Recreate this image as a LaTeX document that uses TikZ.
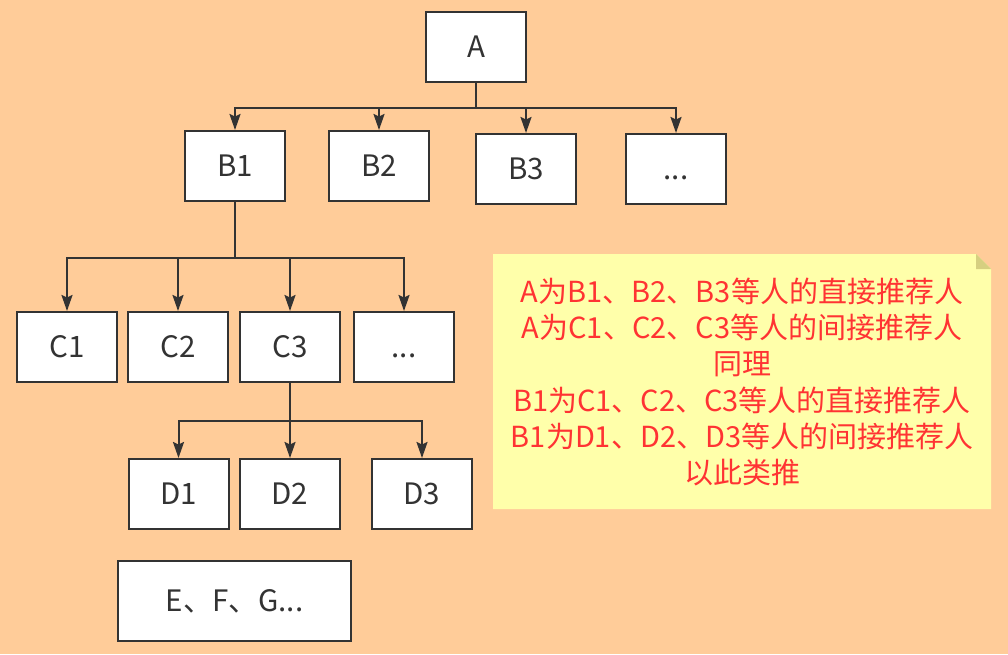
\documentclass[tikz,border=0pt]{standalone}
\usepackage{fontspec}
\setmainfont{Noto Sans CJK SC}
\usetikzlibrary{arrows.meta}
\definecolor{bgc}{HTML}{FFCC99}
\definecolor{ink}{HTML}{333333}
\definecolor{notefill}{HTML}{FFFFAA}
\definecolor{notefold}{HTML}{D6CF80}
\definecolor{notetext}{HTML}{FF3333}
\tikzset{
  box/.style={draw=ink, fill=white, line width=2pt, minimum width=100pt, minimum height=70pt,
    inner sep=0pt, text=ink, text height=21.5pt, text depth=0pt, font=\fontsize{29.5}{34}\selectfont},
  conn/.style={draw=ink, line width=2pt},
  arr/.style={conn, -{Stealth[length=16pt,width=11pt,inset=2.5pt]}},
}
\begin{document}
\begin{tikzpicture}[x=1pt,y=-1pt]
\fill[bgc] (0,0) rectangle (1008,654);
\useasboundingbox (0,0) rectangle (1008,654);

% nodes
\node[box] (A) at (476,47) {A};
\node[box] (B1) at (235,166) {B1};
\node[box] (B2) at (379,166) {B2};
\node[box] (B3) at (526,169) {B3};
\node[box] (B4) at (676,169) {...};
\node[box] (C1) at (67,347) {C1};
\node[box] (C2) at (178,347) {C2};
\node[box] (C3) at (290,347) {C3};
\node[box] (C4) at (404,347) {...};
\node[box] (D1) at (178.5,494) {D1};
\node[box] (D2) at (290,494) {D2};
\node[box] (D3) at (422,494) {D3};
\node[box, minimum width=233pt, minimum height=80pt] (EFG) at (234.5,600.5) {E、F、G...};

% junctions
\coordinate (jA) at (476,107.5);
\coordinate (jB) at (235,258);
\coordinate (jC) at (290,421);

% connectors A -> B
\draw[arr] (A.south) -- (jA) -| (B1.north);
\draw[arr] (A.south) -- (jA) -| (B2.north);
\draw[arr] (A.south) -- (jA) -| (B3.north);
\draw[arr] (A.south) -- (jA) -| (B4.north);
% B1 -> C
\draw[arr] (B1.south) -- (jB) -| (C1.north);
\draw[arr] (B1.south) -- (jB) -| (C2.north);
\draw[arr] (B1.south) -- (jB) -| (C3.north);
\draw[arr] (B1.south) -- (jB) -| (C4.north);
% C3 -> D
\draw[arr] (C3.south) -- (jC) -| (D1.north);
\draw[arr] (C3.south) -- (jC) -| (D2.north);
\draw[arr] (C3.south) -- (jC) -| (D3.north);

% note
\fill[notefill] (493,254) -- (976,254) -- (991,269) -- (991,509) -- (493,509) -- cycle;
\fill[notefold] (976,254) -- (976,269) -- (991,269) -- cycle;
\node[text=notetext, align=center, font=\fontsize{29}{36.2}\selectfont, inner sep=0pt] (note) at (742,382)
{A为B1、B2、B3等人的直接推荐人\\
A为C1、C2、C3等人的间接推荐人\\
同理\\
B1为C1、C2、C3等人的直接推荐人\\
B1为D1、D2、D3等人的间接推荐人\\
以此类推};
\end{tikzpicture}
\end{document}
